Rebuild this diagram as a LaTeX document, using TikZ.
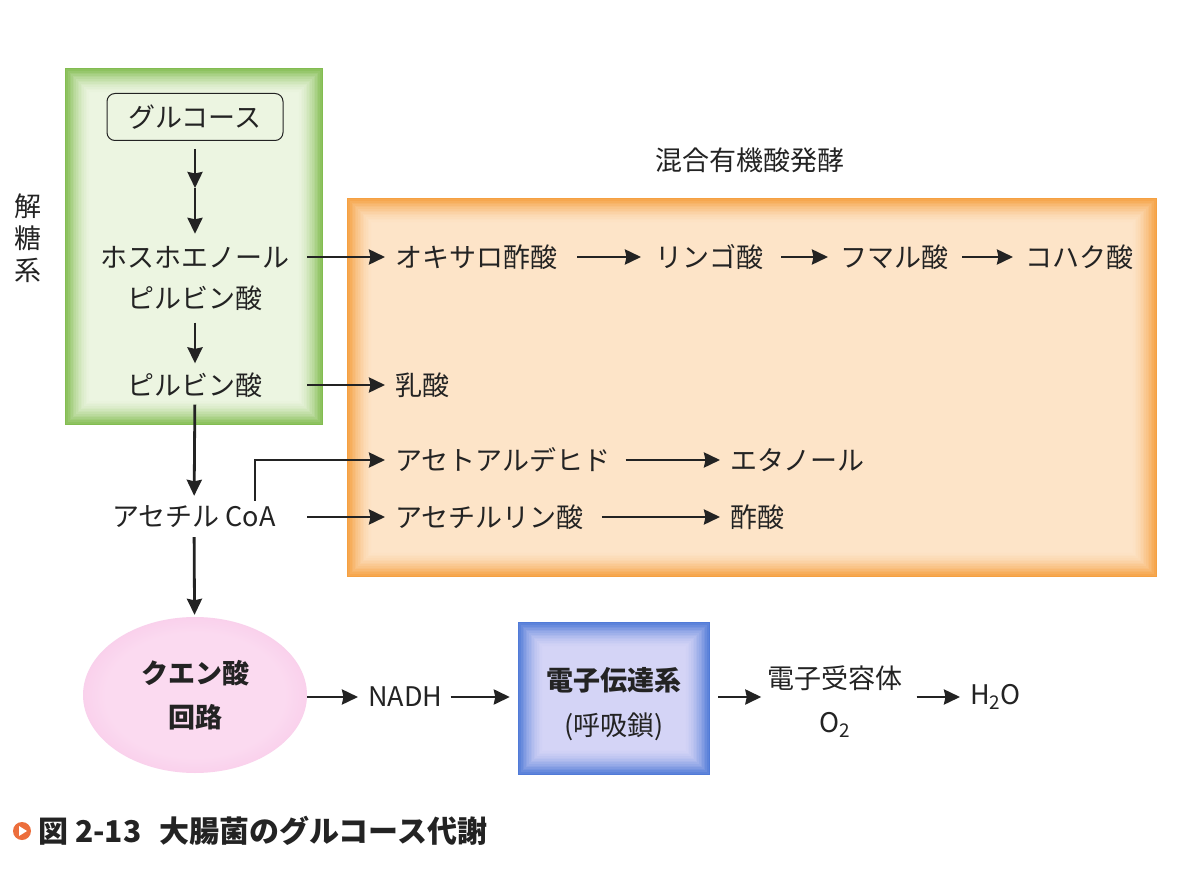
\documentclass[tikz,border=0pt]{standalone}
\usepackage{fontspec}
\setmainfont{Noto Sans CJK JP}
\usetikzlibrary{arrows.meta,calc,shapes.geometric}
\definecolor{gEdge}{RGB}{130,188,80}
\definecolor{gMid}{RGB}{236,245,225}
\definecolor{oEdge}{RGB}{245,160,65}
\definecolor{oMid}{RGB}{253,228,200}
\definecolor{bEdge}{RGB}{80,122,215}
\definecolor{bMid}{RGB}{212,212,246}
\definecolor{pkE}{RGB}{232,125,198}
\definecolor{pkM}{RGB}{244,178,222}
\definecolor{pkC}{RGB}{251,218,240}
\definecolor{capOr}{RGB}{236,110,60}
\definecolor{txt}{RGB}{35,35,35}
\pgfdeclareradialshading{pinkglow}{\pgfpoint{0bp}{0bp}}{color(0bp)=(pkC); color(20bp)=(pkC); color(42bp)=(pkM); color(50bp)=(pkE)}
\newcommand\glowfill[5]{%
  \foreach \i in {0,...,#4}{%
    \pgfmathtruncatemacro\pc{100*(1-\i/#4)^1.6}%
    \fill[#2!\pc!#3] ($(#1.north west)+(\i*#5,\i*#5)$) rectangle ($(#1.south east)-(\i*#5,\i*#5)$);
  }}
\tikzset{
  every node/.style={font=\fontsize{27}{32}\selectfont, inner sep=0pt, text=txt},
  arr/.style={-{Stealth[length=16pt,width=15pt,inset=1.5pt]}, line width=2.8pt, draw=txt},
}
\begin{document}
\begin{tikzpicture}[x=1pt,y=-1pt]
\fill[white] (0,0) rectangle (1200,869);
\useasboundingbox (0,0) rectangle (1200,869);
% areas
\node[rectangle, minimum width=258pt, minimum height=357pt] (gly) at (194,246.5) {};
\node[rectangle, minimum width=810pt, minimum height=379pt] (ferm) at (752,387.5) {};
\node[rectangle, minimum width=192pt, minimum height=153pt] (etc) at (614,698.5) {};
\glowfill{gly}{gEdge}{gMid}{16}{1.6}
\glowfill{ferm}{oEdge}{oMid}{16}{1.6}
\glowfill{etc}{bEdge}{bMid}{16}{1.6}
% labels
\node[align=center] (kaito) at (28,238) {解\\糖\\系};
\node (mixhead) at (750,160) {混合有機酸発酵};
% glycolysis column
\node[draw=txt, line width=1pt, rounded corners=8pt, minimum width=176pt, minimum height=47pt] (glc) at (195,117) {グルコース};
\coordinate (mid) at (195,188);
\node (pep) at (195,257) {ホスホエノール};
\node (pyr1) at (195,298) {ピルビン酸};
\node (pyr2) at (195,385) {ピルビン酸};
\node (coa) at (194,517) {アセチル CoA};
\node[ellipse, minimum width=224pt, minimum height=156pt, shading=pinkglow, align=center,
      font=\fontsize{27}{44}\selectfont\bfseries] (tca) at (195,695) {クエン酸\\回路};
% fermentation products
\node[anchor=west] (oxa) at (395,257) {オキサロ酢酸};
\node[anchor=west] (mal) at (655,257) {リンゴ酸};
\node[anchor=west] (fum) at (840,257) {フマル酸};
\node[anchor=west] (suc) at (1025,257) {コハク酸};
\node[anchor=west] (lac) at (395,385) {乳酸};
\node[anchor=west] (ald) at (395,460) {アセトアルデヒド};
\node[anchor=west] (eth) at (730,460) {エタノール};
\node[anchor=west] (acp) at (395,517) {アセチルリン酸};
\node[anchor=west] (ace) at (730,517) {酢酸};
% respiration row
\node[anchor=west] (nadh) at (368,697) {NADH};
\node[font=\fontsize{27}{32}\selectfont\bfseries] (etc1) at (614,680) {電子伝達系};
\node (etc2) at (614,727) {(呼吸鎖)};
\node (acc) at (835,678) {電子受容体};
\node (o2) at (835,725) {O\textsubscript{2}};
\node[anchor=west] (h2o) at (970,697) {H\textsubscript{2}O};
% helper coordinates
\coordinate (sx) at (307,0);
\coordinate (bx) at (255,0);
% arrows in the glycolysis column
\draw[arr, shorten <=8pt] (glc) -- (mid);
\draw[arr, shorten >=12pt] (mid) -- (pep);
\draw[arr, shorten <=12pt, shorten >=9pt] (pyr1) -- (pyr2);
\draw[arr, shorten <=7pt, shorten >=10pt] (pyr2) -- (coa);
\draw[arr, shorten <=9pt, shorten >=2pt] (coa) -- (tca);
% arrows into fermentation
\draw[arr, shorten >=10pt] (pep.east -| sx) -- (oxa.west);
\draw[arr, shorten >=10pt] (pyr2.east -| sx) -- (lac.west);
\draw[arr, shorten >=10pt] (coa.east -| sx) -- (acp.west);
\draw[arr, shorten <=5pt, shorten >=10pt, line cap=butt] (coa.north -| bx) |- (ald.west);
\draw[arr, shorten <=20pt, shorten >=14pt] (oxa.east) -- (mal.west);
\draw[arr, shorten <=18pt, shorten >=12pt] (mal.east) -- (fum.west);
\draw[arr, shorten <=14pt, shorten >=12pt] (fum.east) -- (suc.west);
\draw[arr, shorten <=15pt, shorten >=10pt] (ald.east) -- (eth.west);
\draw[arr, shorten <=18pt, shorten >=10pt] (acp.east) -- (ace.west);
% respiration arrows
\draw[arr, shorten <=0pt, shorten >=10pt] (nadh.west -| tca.east) -- (nadh.west);
\draw[arr, shorten <=8pt, shorten >=8pt] (nadh.east) -- (nadh.east -| etc.west);
\draw[arr, shorten <=8pt, shorten >=6pt] (nadh.east -| etc.east) -- (nadh.east -| acc.west);
\draw[arr, shorten <=14pt, shorten >=10pt] (acc.east |- h2o.west) -- (h2o.west);
% caption
\node[circle, fill=capOr, minimum size=18pt] (mark) at (22,831) {};
\fill[white] ($(mark.center)+(-3,-5)$) -- ($(mark.center)+(5,0)$) -- ($(mark.center)+(-3,5)$) -- cycle;
\node[anchor=west, font=\fontsize{30}{34}\selectfont\bfseries] (cap) at (38,831) {図 2-13\hspace{0.6em}大腸菌のグルコース代謝};
\end{tikzpicture}
\end{document}
